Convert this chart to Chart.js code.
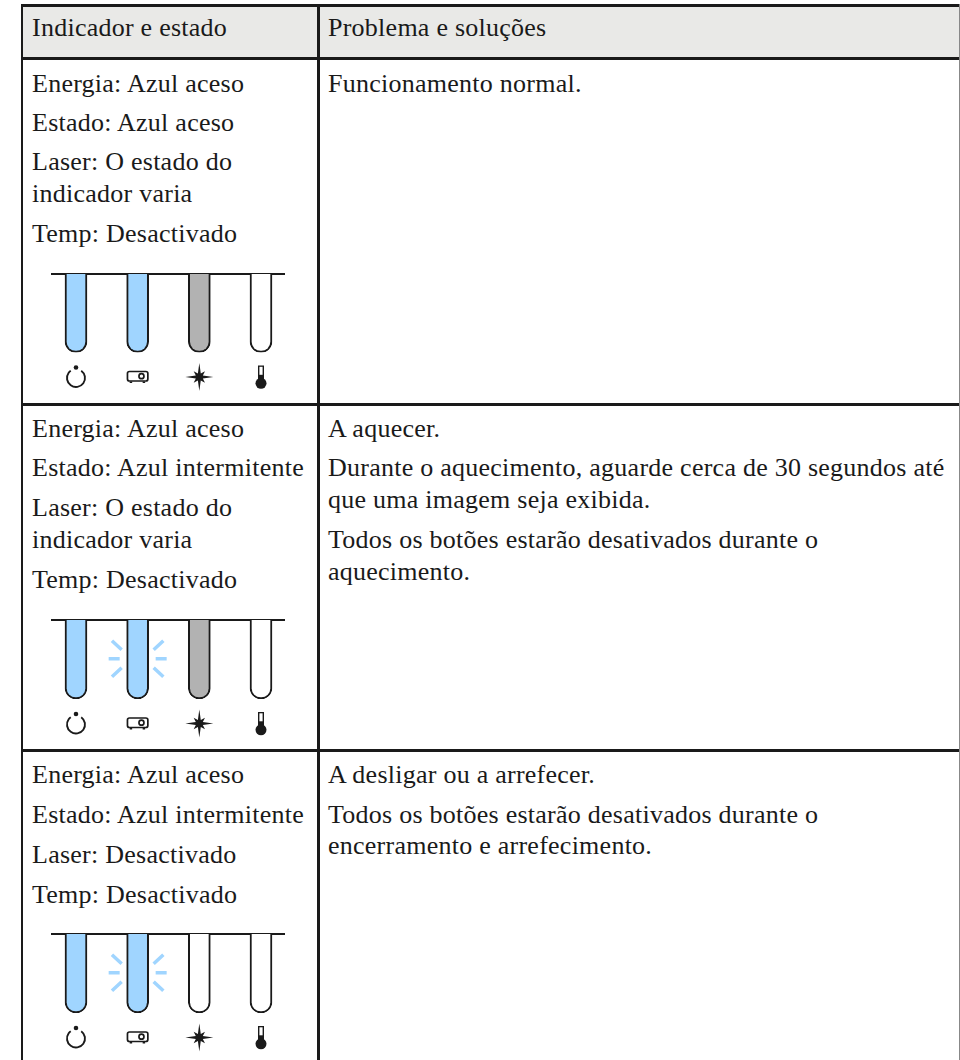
<!DOCTYPE html>
<html lang="pt">
<head>
<meta charset="utf-8">
<title>Indicador e estado</title>
<script src="https://cdn.jsdelivr.net/npm/chart.js@4"></script>
<style>
  html, body { margin: 0; padding: 0; background: #fff; }
  body { position: relative; width: 960px; height: 1060px; overflow: hidden; font-family: "Liberation Serif", serif; color: #1a1a1a; }
  .rule { position: absolute; background: #1a1a1a; }
  .head { position: absolute; left: 22px; top: 5px; width: 937px; height: 53px; background: #e9e9e7; }
  .line { position: absolute; white-space: nowrap; font-size: 26px; line-height: 26px; letter-spacing: 0.25px; }
  canvas { position: absolute; left: 30px; }
</style>
</head>
<body>
<div class="head"></div>
<div id="rules"></div>
<div id="texts"></div>
<canvas id="row1" width="280" height="150"></canvas>
<canvas id="row2" width="280" height="150"></canvas>
<canvas id="row3" width="280" height="150"></canvas>
<script>
const indicators = ["Energia", "Estado", "Laser", "Temp"];
const barValues = [1, 1, 1, 1];

const blue = "#a0d5ff";
const grey = "#b2b2b2";
const off = "#ffffff";

const row1Colors = [blue, blue, grey, off];
const row2Colors = [blue, blue, grey, off];
const row3Colors = [blue, blue, off, off];

const row1Flash = [false, false, false, false];
const row2Flash = [false, true, false, false];
const row3Flash = [false, true, false, false];

// [x, baseline, text]
const textLines = [
  [32, 37, "Indicador e estado"],
  [328, 37, "Problema e soluções"],
  [32, 93, "Energia: Azul aceso"],
  [32, 132, "Estado: Azul aceso"],
  [32, 171, "Laser: O estado do"],
  [32, 203, "indicador varia"],
  [32, 243, "Temp: Desactivado"],
  [328, 93, "Funcionamento normal."],
  [32, 438, "Energia: Azul aceso"],
  [32, 477, "Estado: Azul intermitente"],
  [32, 517, "Laser: O estado do"],
  [32, 549, "indicador varia"],
  [32, 589, "Temp: Desactivado"],
  [328, 438, "A aquecer."],
  [328, 477, "Durante o aquecimento, aguarde cerca de 30 segundos até"],
  [328, 509, "que uma imagem seja exibida."],
  [328, 549, "Todos os botões estarão desativados durante o"],
  [328, 581, "aquecimento."],
  [32, 784, "Energia: Azul aceso"],
  [32, 824, "Estado: Azul intermitente"],
  [32, 864, "Laser: Desactivado"],
  [32, 904, "Temp: Desactivado"],
  [328, 784, "A desligar ou a arrefecer."],
  [328, 824, "Todos os botões estarão desativados durante o"],
  [328, 855, "encerramento e arrefecimento."]
];

/* Table lines and text */
const rules = document.getElementById("rules");
function addRule(left, top, width, height, color) {
  const d = document.createElement("div");
  d.className = "rule";
  d.style.cssText = `left:${left}px;top:${top}px;width:${width}px;height:${height}px;` + (color ? `background:${color};` : "");
  rules.appendChild(d);
}
addRule(21, 4, 939, 2.5);
addRule(21, 57, 939, 2.5);
addRule(21, 403, 939, 2.5);
addRule(21, 749, 939, 2.5);
addRule(21, 4, 2, 1056);
addRule(317, 4, 2.5, 1056);
addRule(959, 4, 1, 1056, "#888");

const texts = document.getElementById("texts");
textLines.forEach(([x, base, str]) => {
  const d = document.createElement("div");
  d.className = "line";
  d.textContent = str;
  d.style.left = x + "px";
  d.style.top = (base - 22) + "px";
  texts.appendChild(d);
});

/* Icons under the bars */
const ink = "#1a1a1a";

function drawPower(c, x, y) {
  c.strokeStyle = ink;
  c.lineWidth = 1.9;
  c.beginPath();
  c.arc(x, y + 1, 9, -Math.PI / 2 + 0.62, -Math.PI / 2 - 0.62);
  c.stroke();
  c.fillStyle = ink;
  c.beginPath();
  c.arc(x, y - 9.5, 2.3, 0, Math.PI * 2);
  c.fill();
}

function drawProjector(c, x, y) {
  c.strokeStyle = ink;
  c.lineWidth = 1.7;
  c.beginPath();
  c.roundRect(x - 10.2, y - 5.5, 20.4, 9.5, 2);
  c.stroke();
  c.beginPath();
  c.arc(x + 3.8, y - 0.8, 2.5, 0, Math.PI * 2);
  c.stroke();
  c.fillStyle = ink;
  c.fillRect(x - 8, y + 4.5, 2.5, 1.5);
  c.fillRect(x + 5, y + 4.5, 2.5, 1.5);
}

function drawStar(c, x, y) {
  c.fillStyle = ink;
  c.beginPath();
  for (let i = 0; i < 16; i++) {
    const a = i * Math.PI / 8;
    const r = i % 4 === 0 ? 14 : (i % 2 === 0 ? 8 : 3.8);
    const px = x + Math.sin(a) * r;
    const py = y - Math.cos(a) * r;
    if (i === 0) c.moveTo(px, py); else c.lineTo(px, py);
  }
  c.closePath();
  c.fill();
}

function drawThermo(c, x, y) {
  c.fillStyle = ink;
  c.fillRect(x - 3, y - 11.5, 6, 17);
  c.beginPath();
  c.arc(x, y + 6.3, 5.5, 0, Math.PI * 2);
  c.fill();
  c.fillStyle = "#fff";
  c.fillRect(x - 1.6, y - 10.2, 3.2, 8);
}

const iconDrawers = [drawPower, drawProjector, drawStar, drawThermo];

const stateMarks = {
  id: "stateMarks",
  afterDatasetsDraw(chart, args, opts) {
    const c = chart.ctx;
    const xs = chart.scales.x;
    const ys = chart.scales.y;
    const iconY = chart.chartArea.bottom + 24.5;

    c.save();
    indicators.forEach((name, i) => {
      const cx = xs.getPixelForValue(i);
      iconDrawers[i](c, cx, iconY);

      if (!opts.flash[i]) return;
      const cy = ys.getPixelForValue(0.49);
      c.strokeStyle = blue;
      c.lineWidth = 3.5;
      [-1, 1].forEach(side => {
        c.beginPath();
        c.moveTo(cx + side * 18, cy);
        c.lineTo(cx + side * 29, cy);
        [-1, 1].forEach(v => {
          c.moveTo(cx + side * 16, cy + v * 9);
          c.lineTo(cx + side * 25.7, cy + v * 18);
        });
        c.stroke();
      });
    });
    c.restore();
  }
};

function makeRow(id, lineY, barLength, colors, flash) {
  const canvas = document.getElementById(id);
  canvas.style.top = (lineY - 20) + "px";
  return new Chart(canvas, {
    type: "bar",
    plugins: [stateMarks],
    data: {
      datasets: [{
        data: barValues.map((v, i) => ({ x: i, y: v })),
        backgroundColor: colors,
        borderColor: ink,
        borderWidth: 2,
        borderRadius: 11,
        barThickness: 22
      }]
    },
    options: {
      responsive: false,
      animation: false,
      layout: { padding: { left: 22, right: 26, top: 20, bottom: 150 - 20 - barLength } },
      plugins: {
        legend: { display: false },
        tooltip: { enabled: false },
        stateMarks: { flash: flash }
      },
      scales: {
        x: {
          type: "linear",
          position: "top",
          offset: false,
          min: -0.389,
          max: 3.373,
          z: 1,
          grid: { display: false, drawTicks: false },
          ticks: { display: false },
          border: { display: true, color: ink, width: 2 }
        },
        y: {
          reverse: true,
          min: 0,
          max: 1,
          display: false
        }
      }
    }
  });
}

makeRow("row1", 274, 78.5, row1Colors, row1Flash);
makeRow("row2", 620, 79, row2Colors, row2Flash);
makeRow("row3", 934, 79, row3Colors, row3Flash);
</script>
</body>
</html>
